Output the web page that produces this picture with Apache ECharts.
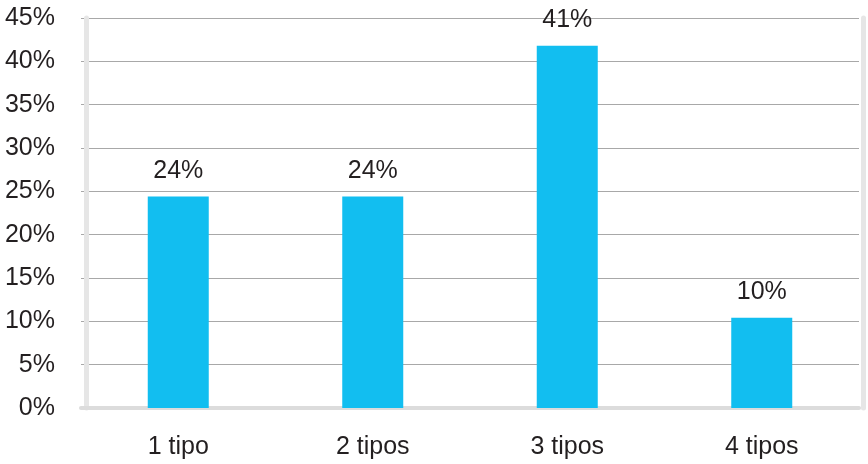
<!DOCTYPE html>
<html>
<head>
<meta charset="utf-8">
<script src="https://cdn.jsdelivr.net/npm/echarts@6/dist/echarts.min.js"></script>
<style>
  html, body { margin: 0; padding: 0; background: #fff; }
  #chart { width: 868px; height: 464px; }
</style>
</head>
<body>
<div id="chart"></div>
<script>
// datos
const categories = ['1 tipo', '2 tipos', '3 tipos', '4 tipos']
const values = [24.4, 24.4, 41.8, 10.4]
const barLabels = ['24%', '24%', '41%', '10%']

const myChart = echarts.init(document.getElementById('chart'))
const textColor = '#231f20'
const fontFamily = '"Liberation Sans", Arial, sans-serif'

const option = {
  animation: false,
  grid: {
    left: 81,
    right: 9,
    top: 18,
    bottom: 56
  },
  xAxis: {
    type: 'category',
    data: categories,
    axisTick: { show: false },
    axisLine: {
      lineStyle: { color: '#dcdcdc', width: 4 }
    },
    axisLabel: {
      color: textColor,
      fontSize: 25,
      fontFamily: fontFamily,
      margin: 27
    }
  },
  yAxis: [
    {
      type: 'value',
      min: 0,
      max: 45,
      interval: 5,
      offset: -5,
      axisLine: {
        show: true,
        lineStyle: { color: '#e6e6e6', width: 5 }
      },
      axisTick: { show: false },
      splitLine: {
        lineStyle: { color: '#a8a8a8', width: 1 }
      },
      axisLabel: {
        formatter: '{value}%',
        color: textColor,
        fontSize: 25,
        fontFamily: fontFamily,
        margin: 31
      }
    },
    {
      type: 'value',
      position: 'right',
      min: 0,
      max: 45,
      interval: 5,
      offset: 4,
      axisLine: {
        show: true,
        lineStyle: { color: '#e6e6e6', width: 5 }
      },
      axisTick: { show: false },
      axisLabel: { show: false },
      splitLine: { show: false }
    }
  ],
  series: [
    {
      type: 'bar',
      data: values,
      barWidth: 61,
      itemStyle: { color: '#12bef0' },
      label: {
        show: true,
        position: 'top',
        distance: 13,
        color: textColor,
        fontSize: 25,
        fontFamily: fontFamily,
        formatter: function(p) {
          return barLabels[p.dataIndex]
        }
      }
    }
  ]
}

myChart.setOption(option)
</script>
</body>
</html>
